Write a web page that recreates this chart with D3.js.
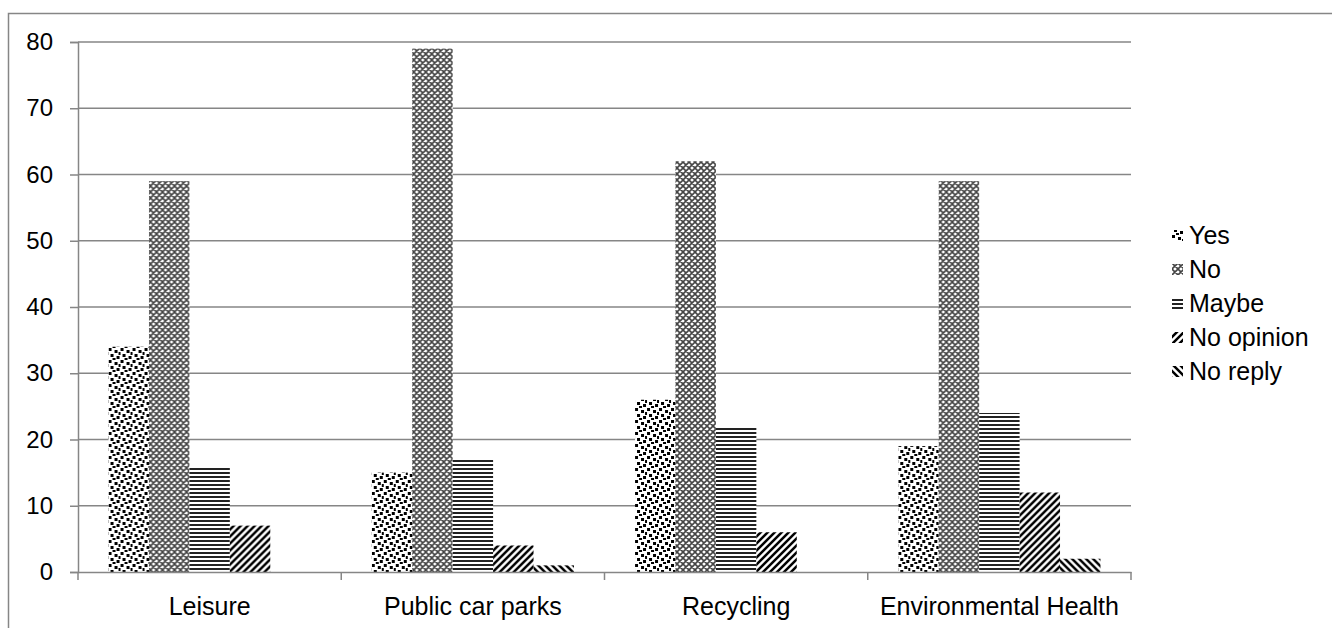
<!DOCTYPE html>
<html>
<head>
<meta charset="utf-8">
<script src="https://cdn.jsdelivr.net/npm/d3@7"></script>
<style>
  body { margin: 0; background: #fff; }
  svg { font-family: "Liberation Sans", Arial, sans-serif; }
</style>
</head>
<body>
<svg id="chart" width="1332" height="628"></svg>
<script>
const categories = ["Leisure", "Public car parks", "Recycling", "Environmental Health"];
const seriesNames = ["Yes", "No", "Maybe", "No opinion", "No reply"];
const yes = [34, 15, 26, 19];
const no = [59, 79, 62, 59];
const maybe = [16, 17, 22, 24];
const noOpinion = [7, 4, 6, 12];
const noReply = [0, 1, 0, 2];
const yTicks = [0, 10, 20, 30, 40, 50, 60, 70, 80];

const seriesValues = [yes, no, maybe, noOpinion, noReply];

const svg = d3.select("#chart");
const margin = {left: 78, top: 42, right: 1131, bottom: 572};

// outer frame
svg.append("rect")
  .attr("x", 8.5).attr("y", 13.5)
  .attr("width", 1340).attr("height", 640)
  .attr("fill", "none")
  .attr("stroke", "#868686")
  .attr("stroke-width", 1.5);

// patterns
const defs = svg.append("defs");
const patIds = ["pYes", "pNo", "pMaybe", "pNoOp", "pNoRep"];

let p = defs.append("pattern").attr("id", "pYes")
  .attr("patternUnits", "userSpaceOnUse").attr("width", 12).attr("height", 12);
p.append("rect").attr("width", 12).attr("height", 12).attr("fill", "#fff");
[[0,0],[6,2],[2,6],[8,8],[10,4],[4,10]].forEach(([x, y]) => {
  p.append("rect").attr("x", x).attr("y", y).attr("width", 3).attr("height", 3).attr("fill", "#000");
});

p = defs.append("pattern").attr("id", "pNo")
  .attr("patternUnits", "userSpaceOnUse").attr("width", 6).attr("height", 6);
p.append("rect").attr("width", 6).attr("height", 6).attr("fill", "#fff");
p.append("path").attr("d", "M0,0L6,6M6,0L0,6M-1,5L1,7M5,-1L7,1M-1,1L1,-1M5,7L7,5")
  .attr("stroke", "#444").attr("stroke-width", 1.6);

p = defs.append("pattern").attr("id", "pMaybe")
  .attr("patternUnits", "userSpaceOnUse").attr("width", 4).attr("height", 4);
p.append("rect").attr("width", 4).attr("height", 4).attr("fill", "#fff");
p.append("rect").attr("y", 0).attr("width", 4).attr("height", 2).attr("fill", "#222");

p = defs.append("pattern").attr("id", "pNoOp")
  .attr("patternUnits", "userSpaceOnUse").attr("width", 7).attr("height", 7);
p.append("rect").attr("width", 7).attr("height", 7).attr("fill", "#fff");
p.append("path").attr("d", "M-2,2L2,-2M0,7L7,0M5,9L9,5")
  .attr("stroke", "#000").attr("stroke-width", 2.5);

p = defs.append("pattern").attr("id", "pNoRep")
  .attr("patternUnits", "userSpaceOnUse").attr("width", 7).attr("height", 7);
p.append("rect").attr("width", 7).attr("height", 7).attr("fill", "#fff");
p.append("path").attr("d", "M-2,5L2,9M0,0L7,7M5,-2L9,2")
  .attr("stroke", "#000").attr("stroke-width", 2.5);

// scales
const y = d3.scaleLinear().domain([0, 80]).range([margin.bottom, margin.top]);
const x0 = d3.scaleBand().domain(categories).range([margin.left, margin.right]).paddingInner(0.232).paddingOuter(0.116);
const x1 = d3.scaleBand().domain(seriesNames).range([0, x0.bandwidth()]);

// gridlines
svg.append("g").selectAll("line").data(yTicks.filter(d => d > 0)).join("line")
  .attr("x1", margin.left).attr("x2", margin.right)
  .attr("y1", d => y(d)).attr("y2", d => y(d))
  .attr("stroke", "#868686").attr("stroke-width", 1.5);

// bars
const groups = svg.append("g").selectAll("g").data(categories).join("g")
  .attr("transform", d => `translate(${x0(d)},0)`);
groups.selectAll("rect")
  .data((c, ci) => seriesNames.map((s, si) => ({s, si, v: seriesValues[si][ci]})))
  .join("rect")
  .attr("x", d => x1(d.s))
  .attr("width", x1.bandwidth())
  .attr("y", d => y(d.v))
  .attr("height", d => y(0) - y(d.v))
  .attr("fill", d => `url(#${patIds[d.si]})`);

// y axis
const yAxis = svg.append("g")
  .attr("transform", `translate(${margin.left},0)`)
  .call(d3.axisLeft(y).tickValues(yTicks).tickSize(8).tickPadding(17));
yAxis.attr("font-size", null).attr("font-family", null);
yAxis.select(".domain").attr("stroke", "#868686").attr("stroke-width", 1.5);
yAxis.selectAll(".tick line").attr("stroke", "#868686").attr("stroke-width", 1.5);
yAxis.selectAll(".tick text").style("font-size", "24px").attr("fill", "#000");

// x axis
const xAxis = svg.append("g")
  .attr("transform", `translate(0,${margin.bottom})`)
  .call(d3.axisBottom(x0).tickSize(0).tickPadding(25));
xAxis.attr("font-size", null).attr("font-family", null);
xAxis.select(".domain").attr("stroke", "#868686").attr("stroke-width", 1.5);
xAxis.selectAll(".tick text").style("font-size", "25px").attr("fill", "#000");

// category separators
const seps = d3.range(categories.length + 1).map(i => margin.left + i * (margin.right - margin.left) / categories.length);
svg.append("g").selectAll("line").data(seps).join("line")
  .attr("x1", d => d).attr("x2", d => d)
  .attr("y1", margin.bottom).attr("y2", margin.bottom + 8)
  .attr("stroke", "#868686").attr("stroke-width", 1.5);

// legend
const legend = svg.append("g").selectAll("g").data(seriesNames).join("g")
  .attr("transform", (d, i) => `translate(1172,${235 + i * 34})`);
legend.append("rect")
  .attr("x", 0).attr("y", -5).attr("width", 11).attr("height", 11)
  .attr("fill", (d, i) => `url(#${patIds[i]})`);
legend.append("text")
  .attr("x", 17).attr("y", 0).attr("dy", "0.35em")
  .style("font-size", "25px").attr("fill", "#000")
  .text(d => d);
</script>
</body>
</html>
